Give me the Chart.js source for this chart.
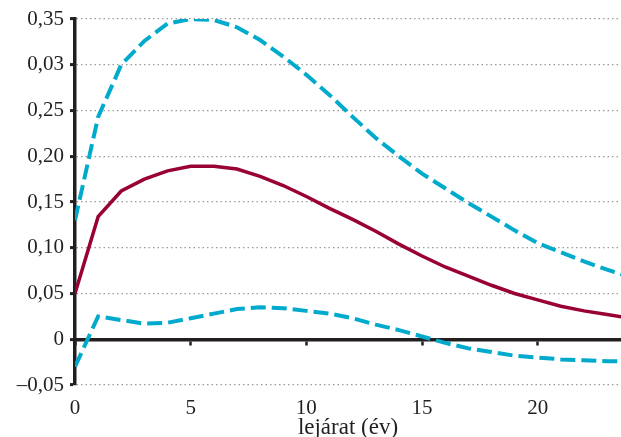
<!DOCTYPE html>
<html>
<head>
<meta charset="utf-8">
<script src="https://cdn.jsdelivr.net/npm/chart.js@4"></script>
<style>
  html, body { margin: 0; padding: 0; background: #fff; }
  #wrap { width: 621px; height: 437px; }
</style>
</head>
<body>
<div id="wrap"><canvas id="yieldChart" width="621" height="437"></canvas></div>
<script>
// lejárat (év)
const years = [0, 1, 2, 3, 4, 5, 6, 7, 8, 9, 10, 11, 12, 13, 14, 15, 16, 17, 18, 19, 20, 21, 22, 23, 24];
// becslés (folytonos vonal)
const estimate = [0.050, 0.134, 0.162, 0.175, 0.184, 0.189, 0.189, 0.186, 0.178, 0.168, 0.156, 0.143,
                  0.131, 0.118, 0.104, 0.091, 0.079, 0.069, 0.059, 0.050, 0.043, 0.036, 0.031, 0.027, 0.023];
// felső sáv (szaggatott)
const upperBand = [0.130, 0.243, 0.300, 0.326, 0.345, 0.350, 0.349, 0.341, 0.327, 0.309, 0.289, 0.267,
                   0.243, 0.220, 0.200, 0.181, 0.165, 0.149, 0.134, 0.119, 0.105, 0.095, 0.085, 0.076, 0.068];
// alsó sáv (szaggatott)
const lowerBand = [-0.030, 0.025, 0.021, 0.017, 0.018, 0.023, 0.028, 0.033, 0.035, 0.034, 0.031, 0.028,
                   0.023, 0.016, 0.010, 0.003, -0.004, -0.010, -0.014, -0.018, -0.020, -0.022, -0.023, -0.024, -0.024];

const xTicks = [0, 5, 10, 15, 20];
const yTicks = [-0.05, 0, 0.05, 0.10, 0.15, 0.20, 0.25, 0.30, 0.35];
const yTickLabels = ['–0,05', '0', '0,05', '0,10', '0,15', '0,20', '0,25', '0,03', '0,35'];

const ink = '#231f20';
const toPoints = arr => years.map((y, i) => ({ x: y, y: arr[i] }));

const ctx = document.getElementById('yieldChart');
new Chart(ctx, {
    type: 'line',
    data: {
        datasets: [
            {
                data: toPoints(upperBand),
                borderColor: '#00aacc',
                borderWidth: 4,
                borderDash: [15, 6],
                pointRadius: 0,
                tension: 0,
                xAxisID: 'x',
                yAxisID: 'y'
            },
            {
                data: toPoints(lowerBand),
                borderColor: '#00aacc',
                borderWidth: 4,
                borderDash: [15, 6],
                pointRadius: 0,
                tension: 0,
                xAxisID: 'x',
                yAxisID: 'y'
            },
            {
                data: toPoints(estimate),
                borderColor: '#990033',
                borderWidth: 3.5,
                pointRadius: 0,
                tension: 0,
                xAxisID: 'x',
                yAxisID: 'y'
            }
        ]
    },
    options: {
        responsive: false,
        animation: false,
        layout: { padding: { top: 19, right: 0, left: 0, bottom: 0 } },
        plugins: {
            legend: { display: false },
            tooltip: { enabled: false }
        },
        scales: {
            // tengely a nulla szintnél, kis beosztásokkal
            x: {
                type: 'linear',
                position: { y: 0 },
                min: 0,
                max: 23.6,
                afterBuildTicks: scale => { scale.ticks = xTicks.map(v => ({ value: v })); },
                border: { display: true, color: ink, width: 3.5 },
                grid: { display: true, drawOnChartArea: false, drawTicks: true, tickLength: 4, tickWidth: 2.5, tickColor: ink },
                ticks: { display: false }
            },
            // feliratok alul
            x2: {
                type: 'linear',
                position: 'bottom',
                min: 0,
                max: 23.6,
                afterBuildTicks: scale => { scale.ticks = xTicks.map(v => ({ value: v })); },
                afterFit: scale => { scale.height = 52; },
                border: { display: false },
                grid: { display: false },
                ticks: {
                    color: ink,
                    padding: 3,
                    maxRotation: 0,
                    font: { family: 'Liberation Serif', size: 21 },
                    callback: v => String(v)
                },
                title: {
                    display: true,
                    text: 'lejárat (év)',
                    color: ink,
                    padding: { top: 0, bottom: -2 },
                    font: { family: 'Liberation Serif', size: 23, lineHeight: 1 }
                }
            },
            y: {
                type: 'linear',
                position: 'left',
                min: -0.05,
                max: 0.35,
                afterBuildTicks: scale => { scale.ticks = yTicks.map(v => ({ value: v })); },
                afterFit: scale => { scale.width = 75; },
                border: { display: true, color: ink, width: 3.5, dash: [1.5, 3] },
                grid: {
                    color: '#9a9a9a',
                    lineWidth: 1.2,
                    drawTicks: true,
                    tickLength: 5,
                    tickWidth: 3,
                    tickColor: ink,
                    tickBorderDash: []
                },
                ticks: {
                    color: ink,
                    padding: 6,
                    font: { family: 'Liberation Serif', size: 21 },
                    callback: (v, i) => yTickLabels[i]
                }
            }
        }
    }
});
</script>
</body>
</html>
